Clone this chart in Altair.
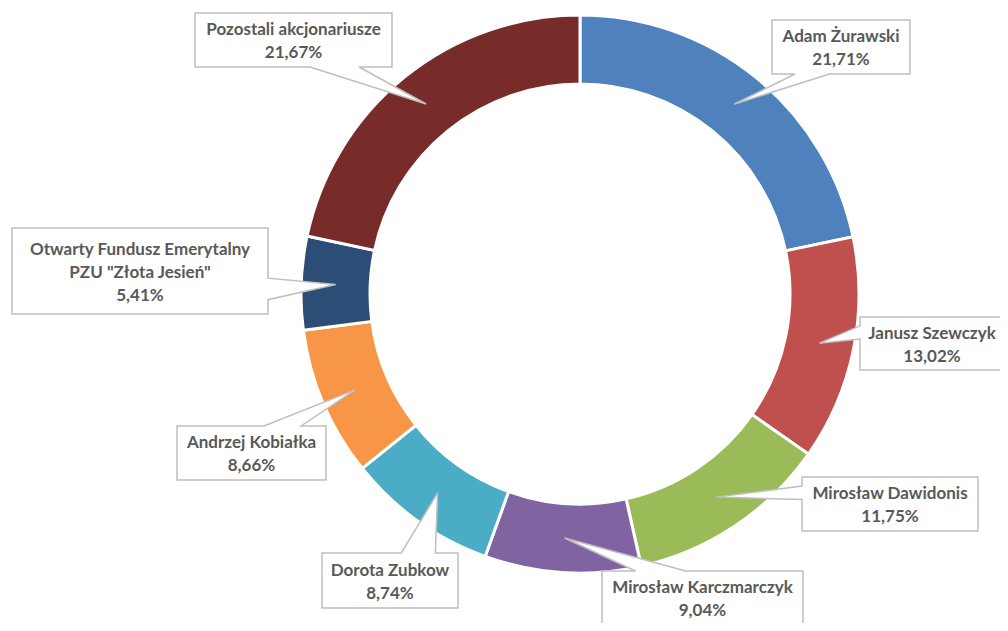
import math
import altair as alt
import pandas as pd

# ---- data -------------------------------------------------------------
names = [
    "Adam Żurawski",
    "Janusz Szewczyk",
    "Mirosław Dawidonis",
    "Mirosław Karczmarczyk",
    "Dorota Zubkow",
    "Andrzej Kobiałka",
    'Otwarty Fundusz Emerytalny\nPZU "Złota Jesień"',
    "Pozostali akcjonariusze",
]
shares = [21.71, 13.02, 11.75, 9.04, 8.74, 8.66, 5.41, 21.67]
colors = ["#4F81BD", "#C0504D", "#9BBB59", "#8064A2", "#4BACC6",
          "#F79646", "#2C4D75", "#772C2A"]

# ---- layout (callout boxes: centre offset from donut centre, size) ----
W, H = 992, 615
CX, CY = 572, 286
R_OUT, R_IN = 279, 210
LINE_H = 23
box_dx = [261, 352, 310, 122.5, -190, -328.5, -440, -286.5]
box_dy = [-247, 49.5, 210, 304, 286.5, 159, -23, -254]
box_w = [138, 144, 176, 201, 136, 149, 256, 197]
box_h = [54, 53, 54, 54, 55, 54, 86, 54]

labels = [n + "\n" + f"{v:.2f}".replace(".", ",") + "%" for n, v in zip(names, shares)]

total = sum(shares)
cum = 0.0
tips = []
for v in shares:
    mid = (cum + v / 2) / total * 2 * math.pi
    cum += v
    r = (R_OUT + R_IN) / 2
    tips.append((CX + r * math.sin(mid), CY - r * math.cos(mid)))


def callout(cx, cy, w, h, tx, ty):
    x0, x1 = cx - w / 2, cx + w / 2
    y0, y1 = cy - h / 2, cy + h / 2
    dx, dy = tx - cx, ty - cy
    if abs(dx) * h > abs(dy) * w:
        if dy < 0:
            b0, b1 = y0 + h / 6, y0 + 5 * h / 12
        else:
            b0, b1 = y0 + 7 * h / 12, y0 + 5 * h / 6
        if dx < 0:
            pts = [(x0, y0), (x1, y0), (x1, y1), (x0, y1), (x0, b1), (tx, ty), (x0, b0)]
        else:
            pts = [(x0, y0), (x1, y0), (x1, b0), (tx, ty), (x1, b1), (x1, y1), (x0, y1)]
    else:
        if dx < 0:
            b0, b1 = x0 + w / 6, x0 + 5 * w / 12
        else:
            b0, b1 = x0 + 7 * w / 12, x0 + 5 * w / 6
        if dy < 0:
            pts = [(x0, y0), (b0, y0), (tx, ty), (b1, y0), (x1, y0), (x1, y1), (x0, y1)]
        else:
            pts = [(x0, y0), (x1, y0), (x1, y1), (b1, y1), (tx, ty), (b0, y1), (x0, y1)]
    pts.append(pts[0])
    return {"type": "Feature", "properties": {},
            "geometry": {"type": "Polygon", "coordinates": [[list(p) for p in pts]]}}


features = []
lx, ly = [], []
for i in range(len(names)):
    bx, by = CX + box_dx[i], CY + box_dy[i]
    n_lines = labels[i].count("\n") + 1
    lx.append(bx)
    ly.append(by + 1.5 - (n_lines - 1) * LINE_H / 2)
    features.append(callout(bx, by, box_w[i], box_h[i], tips[i][0], tips[i][1]))

slices = pd.DataFrame({"name": names, "share": shares, "order": list(range(len(names)))})
text_df = pd.DataFrame({"label": labels, "lx": lx, "ly": ly})

proj = dict(type="identity", scale=1, translate=[0, 0])

arc = alt.Chart(slices).mark_arc(
    outerRadius=R_OUT, innerRadius=R_IN, stroke="white", strokeWidth=3
).encode(
    theta=alt.Theta("share:Q", stack=True),
    order=alt.Order("order:Q"),
    color=alt.Color("name:N", scale=alt.Scale(domain=names, range=colors), legend=None),
    x=alt.value(CX),
    y=alt.value(CY),
)

boxes = alt.Chart(alt.Data(values=features)).mark_geoshape(
    fill="white", stroke="#BFBFBF", strokeWidth=1.5
).project(**proj)

text = alt.Chart(text_df).mark_text(
    font="Lato", fontWeight="bold", fontSize=17, color="#595959",
    lineBreak="\n", lineHeight=LINE_H, align="center", baseline="middle"
).encode(
    longitude="lx:Q", latitude="ly:Q", text="label:N"
).project(**proj)

chart = alt.layer(arc, boxes, text).properties(
    width=W, height=H, padding=0,
    autosize=alt.AutoSizeParams(type="none"),
).configure_view(stroke=None)

chart.save("out.html", embed_options={"renderer": "svg", "actions": False})
